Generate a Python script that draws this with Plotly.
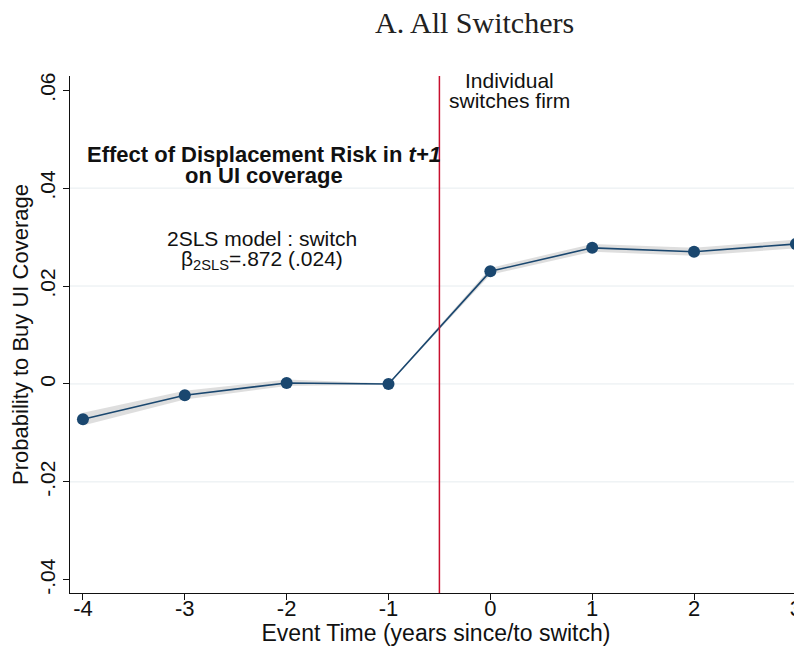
import plotly.graph_objects as go

event_time = [-4, -3, -2, -1, 0, 1, 2, 3]
coef = [-0.0072, -0.0023, 0.0002, 0.0, 0.0230, 0.0278, 0.0270, 0.0286]
ci_low = [-0.0085, -0.0032, -0.0004, -0.0001, 0.0223, 0.0270, 0.0262, 0.0277]
ci_high = [-0.0059, -0.0014, 0.0009, 0.0001, 0.0237, 0.0286, 0.0278, 0.0295]
y_ticks = [-0.04, -0.02, 0, 0.02, 0.04, 0.06]
y_tick_text = ["-.04", "-.02", "0", ".02", ".04", ".06"]
grid_vals = [-0.02, 0, 0.02, 0.04]
x_ticks = [-4, -3, -2, -1, 0, 1, 2, 3]
x_tick_text = ["-4", "-3", "-2", "-1", "0", "1", "2", "3"]
switch_time = -0.5

navy = "#1a476f"
crimson = "#c8102e"
sans = "Liberation Sans, Arial"

fig = go.Figure()
fig.add_trace(go.Scatter(x=event_time + event_time[::-1], y=ci_high + ci_low[::-1],
                         mode="lines", fill="toself", fillcolor="rgba(200,200,200,0.6)",
                         line=dict(width=0), hoverinfo="skip", showlegend=False))
fig.add_trace(go.Scatter(x=event_time, y=coef, mode="lines+markers",
                         line=dict(color=navy, width=1.6), cliponaxis=False,
                         marker=dict(color=navy, size=12), showlegend=False))

for g in grid_vals:
    fig.add_shape(type="line", xref="paper", x0=0, x1=1, yref="y", y0=g, y1=g,
                  line=dict(color="#e6ecef", width=1), layer="below")

fig.add_shape(type="line", xref="x", x0=switch_time, x1=switch_time, yref="paper",
              y0=0, y1=1, line=dict(color=crimson, width=1.5))

def note(text, x, y, yref="y", size=21):
    fig.add_annotation(x=x, xref="x", xanchor="center", y=y, yref=yref, yanchor="middle",
                       text=text, showarrow=False, align="center",
                       font=dict(family=sans, size=size, color="#111"))

note("Individual", 0.19, 0.992, yref="paper")
note("switches firm", 0.19, 0.953, yref="paper")
note("<b>Effect of Displacement Risk in <i>t+1</i></b>", -2.22, 0.0468, size=22)
note("<b>on UI coverage</b>", -2.22, 0.0425, size=22)
note("2SLS model : switch", -2.24, 0.0298)
note("β<sub>2SLS</sub>=.872 (.024)", -2.24, 0.0253)

fig.add_annotation(x=0.553, xref="paper", xanchor="center", y=1.104, yref="paper",
                   yanchor="middle", text="A. All Switchers", showarrow=False,
                   font=dict(family="Liberation Serif, DejaVu Serif", size=30, color="#222"))

# page body has an 8px margin, so the figure is sized/offset to compensate
fig.update_layout(
    width=794, height=638,
    margin=dict(l=62, r=0, t=68, b=53),
    plot_bgcolor="white", paper_bgcolor="white",
    font=dict(family=sans, size=21, color="#111"),
    xaxis=dict(range=[-4.127, 3.06], tickvals=x_ticks, ticktext=x_tick_text,
               ticks="outside", ticklen=6, automargin=False, ticklabeloverflow="allow",
               ticklabelstandoff=-10,
               tickcolor="#111", showline=True, linecolor="#111", linewidth=1,
               showgrid=False, zeroline=False, tickfont=dict(size=22),
               title=dict(text="Event Time (years since/to switch)", font=dict(size=23), standoff=0)),
    yaxis=dict(range=[-0.0427, 0.0629], tickvals=y_ticks, ticktext=y_tick_text,
               tickangle=-90, ticks="outside", ticklen=6, tickcolor="#111", automargin=False,
               showline=True, linecolor="#111", linewidth=1, showgrid=False,
               zeroline=False, tickfont=dict(size=21),
               title=dict(text="Probability to Buy UI Coverage", font=dict(size=22), standoff=0)),
)

fig.write_html("out.html")
